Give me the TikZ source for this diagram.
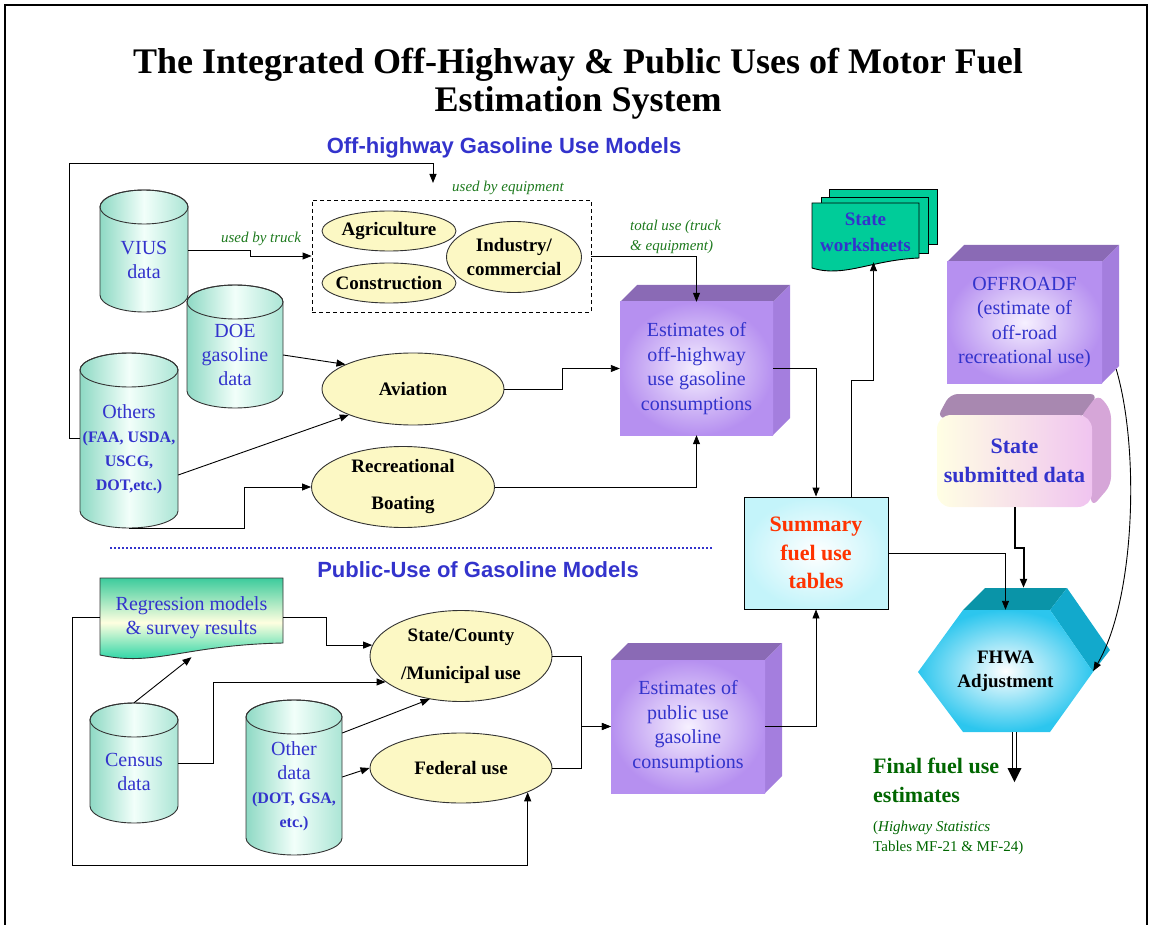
\documentclass[tikz,border=0pt]{standalone}
\usepackage{fontspec}
\setmainfont{Liberation Serif}
\newfontfamily\headfont{Liberation Sans}
\usetikzlibrary{shapes.geometric,arrows.meta,positioning}

\definecolor{txtblue}{HTML}{3333CC}
\definecolor{lblgreen}{HTML}{1E7A1E}
\definecolor{fingreen}{HTML}{006600}
\definecolor{sumred}{HTML}{FF3300}
\definecolor{ellfill}{HTML}{FCF8C4}
\definecolor{cylA}{HTML}{8ED9C4}
\definecolor{cylB}{HTML}{ABE5D5}
\definecolor{cylmid}{HTML}{F2FFFA}
\definecolor{purfront}{HTML}{B690F0}
\definecolor{purmid}{HTML}{F6F0FF}
\definecolor{purtop}{HTML}{8A6AB5}
\definecolor{purside}{HTML}{A47EDE}
\definecolor{sheetgreen}{HTML}{00CC99}
\definecolor{regtop}{HTML}{3CCB9C}
\definecolor{regmid}{HTML}{FFFFE0}
\definecolor{sumcyan}{HTML}{C4F4FA}
\definecolor{hexcyan}{HTML}{2CC6EE}
\definecolor{hextop}{HTML}{0A94A8}
\definecolor{hexside}{HTML}{12A9CC}
\definecolor{subyel}{HTML}{FFFFE4}
\definecolor{subpink}{HTML}{F0C4F0}
\definecolor{subtop}{HTML}{A888B0}
\definecolor{subside}{HTML}{D6A6D8}

\newcommand{\fsz}[2]{\fontsize{#1}{#2}\selectfont}
\newcommand{\srcfont}{\bfseries\fsz{16}{20.5}}

\tikzset{
  cylbody/.style={draw=black!80, line width=0.9pt, left color=cylA, right color=cylB, middle color=cylmid},
  cyltop/.style={draw=black!80, line width=0.9pt},
  cyltext/.style={inner sep=0pt, align=center, text=txtblue, font=\fsz{20}{24}},
  usebox/.style={ellipse, draw=black!80, line width=0.9pt, fill=ellfill, inner xsep=-8pt, inner ysep=0pt, align=center, font=\fsz{19}{24}\bfseries},
  purbox/.style={inner sep=0pt, align=center, text=txtblue, inner color=purmid, outer color=purfront, font=\fsz{20}{24.5}},
  heading/.style={text=txtblue, font=\headfont\bfseries\fsz{22}{26}},
  note/.style={text=lblgreen, font=\fsz{15}{20}\itshape, inner sep=0pt},
  flow/.style={-{Triangle[length=9pt,width=7pt]}, line width=0.9pt},
}

% data cylinder: name, x1, y1, x2, y2, text
\newcommand{\dbcyl}[6]{%
  \pgfmathsetmacro\cylx{(#2+#4)/2}
  \pgfmathsetmacro\cylr{(#4-#2)/2}
  \path[cylbody] ({#2},{#3+17}) -- ({#2},{#5-17}) arc[start angle=180, end angle=360, x radius=\cylr pt, y radius=17pt]
    -- ({#4},{#3+17}) arc[start angle=0, end angle=180, x radius=\cylr pt, y radius=17pt] -- cycle;
  \draw[cyltop] (\cylx,{#3+17}) ellipse [x radius=\cylr pt, y radius=17pt];
  \node[cyltext, minimum width={(#4-#2)*1pt}, minimum height={(#5-#3-17)*1pt}] (#1) at (\cylx,{(#3+17+#5)/2}) {#6};
}

% purple box with depth: name, x1, y1, x2, y2, text
\newcommand{\pcube}[6]{%
  \fill[purtop] ({#2},{#3}) -- ++(17,-17) -- ({#4+17},{#3-17}) -- ({#4},{#3}) -- cycle;
  \fill[purside] ({#4},{#3}) -- ++(17,-17) -- ({#4+17},{#5-17}) -- ({#4},{#5}) -- cycle;
  \node[purbox, minimum width={(#4-#2)*1pt}, minimum height={(#5-#3)*1pt}] (#1) at ({(#2+#4)/2},{(#3+#5)/2}) {#6};
}

\begin{document}
\begin{tikzpicture}[x=1pt, y=-1pt]
\useasboundingbox (0,0) rectangle (1151,925);
\draw[line width=2.5pt] (5,5) rectangle (1147,940);

% Title and headings
\node[font=\fsz{36}{38}\bfseries, align=center] (title) at (578,84) {The Integrated Off-Highway \& Public Uses of Motor Fuel\\Estimation System};
\node[heading] (offhead) at (504,148) {Off-highway Gasoline Use Models};
\node[heading] (pubhead) at (478,570) {Public-Use of Gasoline Models};
\draw[txtblue, line width=1.6pt, dash pattern=on 1.6pt off 2.4pt] (110,548) -- (713,548);

% Off-highway models
\dbcyl{vius}{100}{190}{188}{312}{VIUS\\data}
\dbcyl{doe}{187}{285}{283}{408}{DOE\\gasoline\\data}
\dbcyl{others}{80}{353}{178}{528}{Others\\\srcfont(FAA, USDA,\\\srcfont USCG,\\\srcfont DOT,etc.)}

\node[draw, line width=0.9pt, dash pattern=on 4pt off 3pt, minimum width=279pt, minimum height=112pt, inner sep=0pt] (equip) at (451.5,256) {};
\node[usebox, minimum width=134pt, minimum height=40pt] (agri) at (389,231) {Agriculture};
\node[usebox, minimum width=134pt, minimum height=40pt] (constr) at (389,283) {Construction};
\node[usebox, minimum width=135pt, minimum height=71pt] (industry) at (514,257) {Industry/\\commercial};
\node[usebox, minimum width=182pt, minimum height=72pt] (aviation) at (413,389) {Aviation};
\node[usebox, minimum width=183pt, minimum height=81pt, font=\fsz{19}{37}\bfseries] (recreation) at (403,487) {Recreational\\Boating};

\node[note] (truckuse) at (261,239) {used by truck};
\node[note] (equipuse) at (508,188) {used by equipment};
\node[note, align=left, anchor=west] (totaluse) at (630,237) {total use (truck\\\& equipment)};

\pcube{offest}{620}{302}{773}{435}{Estimates of\\off-highway\\use gasoline\\consumptions}

% Public-use models
\shade[top color=regtop, bottom color=sheetgreen, middle color=regmid, draw=black!80, line width=0.9pt]
  (100,578) -- (283,578) -- (283,643) .. controls (184,645) and (155,667) .. (100,655) -- cycle;
\node[inner sep=0pt, minimum width=183pt, minimum height=79pt, align=center, text=txtblue, font=\fsz{20}{24}] (regr) at (191.5,617.5) {Regression models\\\& survey results};

\dbcyl{census}{90}{703}{178}{823}{Census\\data}
\dbcyl{otherdata}{246}{700}{342}{855}{Other\\data\\\srcfont(DOT, GSA,\\\srcfont etc.)}

\node[usebox, minimum width=182pt, minimum height=91pt, font=\fsz{19}{38}\bfseries] (statecty) at (461,656) {State/County\\/Municipal use};
\node[usebox, minimum width=182pt, minimum height=70pt] (federal) at (461,768) {Federal use};

\pcube{pubest}{611}{660}{765}{793}{Estimates of\\public use\\gasoline\\consumptions}

% Summary and adjustment
\node[draw, line width=0.9pt, inner color=white, outer color=sumcyan, minimum width=144pt, minimum height=112pt, align=center, text=sumred, font=\fsz{22}{28.5}\bfseries] (summary) at (816,553) {Summary\\fuel use\\tables};

\filldraw[fill=sheetgreen, draw=black, line width=0.9pt] (829,189) rectangle (937,244);
\filldraw[fill=sheetgreen, draw=black, line width=0.9pt] (821,197) rectangle (928,253);
\filldraw[fill=sheetgreen, draw=black, line width=0.9pt] (812,203) -- (919,203) -- (919,258) .. controls (871,260) and (844,278) .. (812,268) -- cycle;
\node[inner sep=0pt, minimum width=107pt, minimum height=59pt, align=center, text=txtblue, font=\fsz{19}{26}\bfseries] (sheets) at (865.5,232.5) {State\\worksheets};

\pcube{offroad}{947}{262}{1102}{383}{OFFROADF\\(estimate of\\off-road\\recreational use)}

\fill[subtop, rounded corners=8pt] (937,418) -- (950,394) -- (1098,394) -- (1082,418) -- cycle;
\fill[subside, rounded corners=8pt] (1080,418) -- (1098,394) -- (1111,410) -- (1111,485) -- (1092,507) -- cycle;
\node[rounded corners=14pt, left color=subyel, right color=subpink, minimum width=155pt, minimum height=92pt, align=center, text=txtblue, font=\fsz{22}{29}\bfseries] (submitted) at (1014.5,461) {State\\submitted data};

\fill[hextop] (963,610) -- (985,588) -- (1067,588) -- (1050,610) -- cycle;
\fill[hexside] (1050,610) -- (1067,588) -- (1110,650) -- (1093,672) -- cycle;
\shade[inner color=white, outer color=hexcyan] (918,672) -- (963,610) -- (1050,610) -- (1093,672) -- (1050,732) -- (963,732) -- cycle;
\node[inner sep=0pt, minimum width=175pt, minimum height=122pt, align=center, font=\fsz{19}{24}\bfseries] (fhwa) at (1005.5,671) {FHWA\\Adjustment};

\node[anchor=west, inner sep=0pt, align=left, text=fingreen, font=\fsz{22}{29}\bfseries] (final) at (873,780) {Final fuel use\\estimates};
\node[anchor=west, inner sep=0pt, align=left, text=fingreen, font=\fsz{15}{20}] (hwstats) at (873,838) {(\textit{Highway Statistics}\\Tables MF-21 \& MF-24)};

% Connectors
\coordinate (eqtop) at (433,163);
\coordinate (eqin) at (433,183);
\coordinate (pubbot) at (72,865);
\draw[flow] ([yshift=11pt]others.west) -- ++(-10,0) |- (eqtop) -- (eqin);
\draw[flow] ([yshift=9pt]vius.east) -- ++(62,0) |- (equip.west);
\draw[flow] (equip.east) -| (offest.north);
\draw[flow] (doe.east) -- (aviation.160);
\draw[flow] ([yshift=-26pt]others.east) -- (aviation.202);
\draw[flow] (others.south) -- ++(115,0) |- (recreation.west);
\draw[flow] (aviation.east) -- ++(58,0) |- (offest.west);
\draw[flow] (recreation.east) -| (offest.south);
\draw[flow] (offest.east) -| (summary.north);
\draw[flow] ([xshift=35pt]summary.north) -- ++(0,-116) -| ([xshift=8pt]sheets.south);

\draw[flow] (regr.east) -- ++(43,0) |- (statecty.173);
\draw[flow] (regr.west) -| (pubbot) -| (federal.-20);
\draw[flow] ([yshift=17pt]census.north) -- (regr.south);
\draw[flow] ([yshift=8pt]census.east) -- ++(35,0) |- (statecty.199);
\draw[flow] ([yshift=53pt]otherdata.east) -- (statecty.234);
\draw[flow] ([yshift=9pt]otherdata.east) -- (federal.west);
\draw[flow] (statecty.east) -- ++(29,0) |- (pubest.west);
\draw[flow] (federal.east) -- ++(29,0) |- (pubest.west);
\draw[flow] (pubest.east) -| (summary.south);

\draw[flow] (summary.east) -| (fhwa.north);
\draw[flow, line width=2pt] (submitted.south) -- ++(0,41) -| ([xshift=18pt,yshift=22pt]fhwa.north);
\draw[flow] ([xshift=14pt,yshift=14pt]offroad.south east) .. controls (1140,450) and (1135,600) .. (fhwa.east);
\draw[double, double distance=3pt, line width=0.9pt] ([xshift=9pt]fhwa.south) -- ++(0,37);
\fill ([xshift=9pt,yshift=-50pt]fhwa.south) -- ++(-7,-14) -- ++(14,0) -- cycle;
\end{tikzpicture}
\end{document}
